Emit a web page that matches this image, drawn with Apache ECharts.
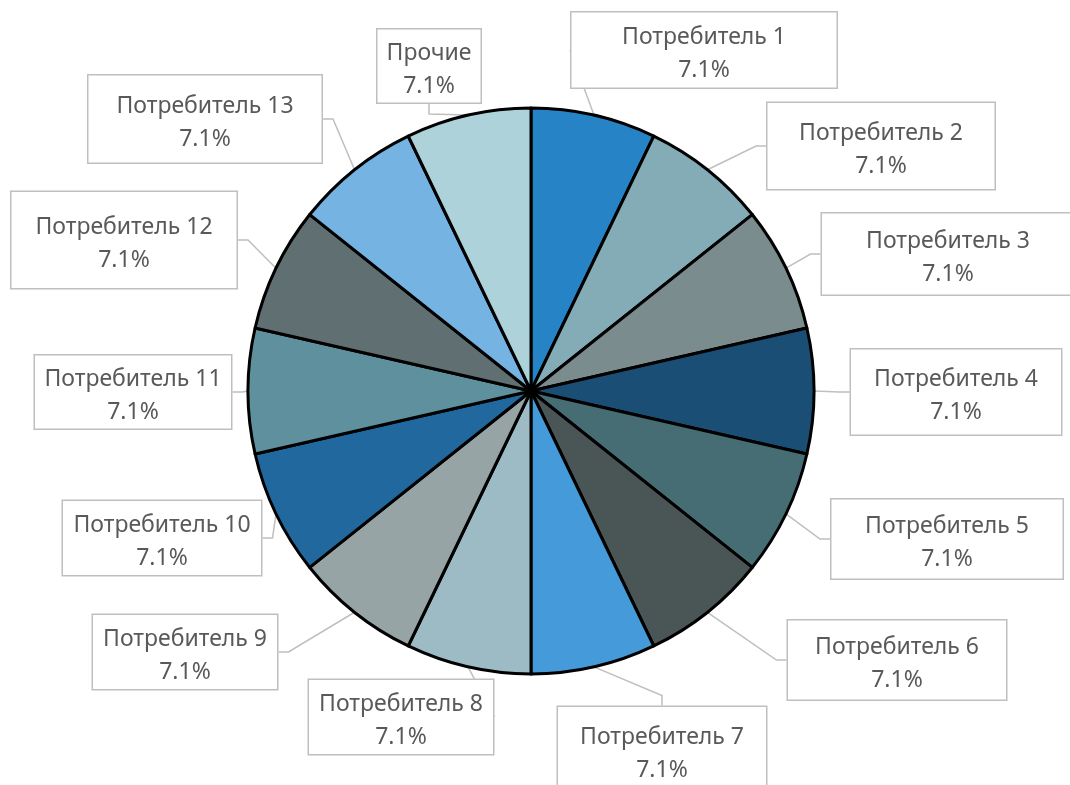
<!DOCTYPE html>
<html>
<head>
<meta charset="utf-8">
<script src="https://cdn.jsdelivr.net/npm/echarts@6/dist/echarts.min.js"></script>
<style>
  html, body { margin: 0; padding: 0; background: #ffffff; }
  #chart { width: 1070px; height: 785px; }
</style>
</head>
<body>
<div id="chart"></div>
<script>
// Consumers and their shares
const categories = [
  'Потребитель 1', 'Потребитель 2', 'Потребитель 3', 'Потребитель 4',
  'Потребитель 5', 'Потребитель 6', 'Потребитель 7', 'Потребитель 8',
  'Потребитель 9', 'Потребитель 10', 'Потребитель 11', 'Потребитель 12',
  'Потребитель 13', 'Прочие'
];
const shares = [7.1, 7.1, 7.1, 7.1, 7.1, 7.1, 7.1, 7.1, 7.1, 7.1, 7.1, 7.1, 7.1, 7.1];

// Slice fills
const sliceColors = [
  '#2683C6', '#84ACB6', '#7A8C8E', '#1B4E75', '#466D74', '#4A5556', '#459ADA',
  '#9DBBC4', '#96A4A5', '#21689E', '#5E919D', '#606F72', '#75B3E2', '#ADD2D9'
];

// Callout boxes: [centerX, centerY, width, height]
const calloutBoxes = [
  [704, 50, 265, 75], [881, 146, 227, 86], [948, 254, 252, 81], [956, 392, 210, 85],
  [947, 539, 231, 79], [897, 660, 218, 79], [662, 750, 208, 86], [401, 717, 184, 74],
  [185, 652, 184, 74], [162, 538, 198, 74], [133, 392, 196, 73], [124, 240, 225, 96],
  [205, 119, 233, 87], [429, 66, 103, 73]
];

const total = shares.reduce((a, b) => a + b, 0);
const LINE_H = 33;
const TEXT_SHIFT = 4; // nudges the two text lines down inside each box

const chart = echarts.init(document.getElementById('chart'), null, { renderer: 'canvas' });

chart.setOption({
  backgroundColor: '#ffffff',
  animation: false,
  series: [{
    type: 'pie',
    center: [531, 391],
    radius: 283,
    startAngle: 90,
    clockwise: true,
    avoidLabelOverlap: false,
    data: categories.map((name, i) => {
      const box = calloutBoxes[i];
      const pv = Math.max(0, (box[3] - 2 * LINE_H) / 2);
      const s = Math.min(TEXT_SHIFT, pv);
      return {
        name: name,
        value: shares[i],
        itemStyle: { color: sliceColors[i] },
        label: { width: box[2], padding: [pv + s, 0, pv - s, 0] }
      };
    }),
    itemStyle: { borderColor: '#000000', borderWidth: 3 },
    label: {
      show: true,
      position: 'outside',
      formatter: p => p.name + '\n' + (p.value / total * 100).toFixed(1) + '%',
      fontFamily: '"Noto Sans", "Open Sans", sans-serif',
      fontSize: 23,
      lineHeight: LINE_H,
      color: '#595959',
      align: 'center',
      backgroundColor: '#ffffff',
      borderColor: '#BFBFBF',
      borderWidth: 1.5
    },
    labelLine: {
      show: true,
      length: 10,
      length2: 10,
      smooth: false,
      lineStyle: { color: '#BFBFBF', width: 1.5 }
    },
    labelLayout: params => {
      const box = calloutBoxes[params.dataIndex];
      return { x: box[0], y: box[1] - box[3] / 2, align: 'center', verticalAlign: 'top' };
    }
  }]
});
</script>
</body>
</html>
